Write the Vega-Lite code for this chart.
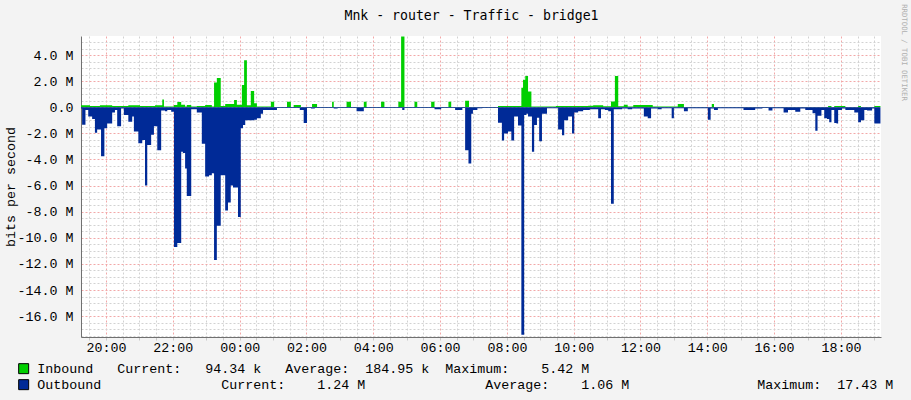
{
"$schema": "https://vega.github.io/schema/vega-lite/v6.json",
"width": 800, "height": 301,
"autosize": {"type": "none"},
"padding": {"left": 81, "top": 36, "right": 30, "bottom": 63},
"background": "#F3F3F3",
"view": {"fill": "#FFFFFF", "stroke": null},
"data": {"values": [
{"time":"2024-01-01T19:15Z","series":"Inbound","mbps":0.15},{"time":"2024-01-01T19:31Z","series":"Inbound","mbps":0.1},{"time":"2024-01-01T19:49Z","series":"Inbound","mbps":0.15},{"time":"2024-01-01T20:11Z","series":"Inbound","mbps":0.1},{"time":"2024-01-01T20:40Z","series":"Inbound","mbps":0.15},{"time":"2024-01-01T21:01Z","series":"Inbound","mbps":0.1},{"time":"2024-01-01T21:28Z","series":"Inbound","mbps":0.15},{"time":"2024-01-01T21:41Z","series":"Inbound","mbps":0.6},{"time":"2024-01-01T21:44Z","series":"Inbound","mbps":0.05},{"time":"2024-01-01T22:02Z","series":"Inbound","mbps":0.18},{"time":"2024-01-01T22:08Z","series":"Inbound","mbps":0.4},{"time":"2024-01-01T22:15Z","series":"Inbound","mbps":0.2},{"time":"2024-01-01T22:22Z","series":"Inbound","mbps":0.05},{"time":"2024-01-01T22:25Z","series":"Inbound","mbps":0.18},{"time":"2024-01-01T22:33Z","series":"Inbound","mbps":0.05},{"time":"2024-01-01T22:43Z","series":"Inbound","mbps":0.1},{"time":"2024-01-01T22:58Z","series":"Inbound","mbps":0.18},{"time":"2024-01-01T23:10Z","series":"Inbound","mbps":0.05},{"time":"2024-01-01T23:14Z","series":"Inbound","mbps":1.9},{"time":"2024-01-01T23:19Z","series":"Inbound","mbps":2.25},{"time":"2024-01-01T23:26Z","series":"Inbound","mbps":0.1},{"time":"2024-01-01T23:34Z","series":"Inbound","mbps":0.25},{"time":"2024-01-01T23:50Z","series":"Inbound","mbps":0.55},{"time":"2024-01-01T23:55Z","series":"Inbound","mbps":0.2},
{"time":"2024-01-02T00:04Z","series":"Inbound","mbps":1.7},{"time":"2024-01-02T00:08Z","series":"Inbound","mbps":3.6},{"time":"2024-01-02T00:13Z","series":"Inbound","mbps":0.15},{"time":"2024-01-02T00:20Z","series":"Inbound","mbps":1.25},{"time":"2024-01-02T00:26Z","series":"Inbound","mbps":0.3},{"time":"2024-01-02T00:31Z","series":"Inbound","mbps":0.05},{"time":"2024-01-02T00:56Z","series":"Inbound","mbps":0.43},{"time":"2024-01-02T01:02Z","series":"Inbound","mbps":0.02},{"time":"2024-01-02T01:25Z","series":"Inbound","mbps":0.43},{"time":"2024-01-02T01:32Z","series":"Inbound","mbps":0.02},{"time":"2024-01-02T01:37Z","series":"Inbound","mbps":0.18},{"time":"2024-01-02T01:50Z","series":"Inbound","mbps":0.02},{"time":"2024-01-02T02:10Z","series":"Inbound","mbps":0.25},{"time":"2024-01-02T02:19Z","series":"Inbound","mbps":0.02},{"time":"2024-01-02T02:46Z","series":"Inbound","mbps":0.43},{"time":"2024-01-02T02:49Z","series":"Inbound","mbps":0.02},{"time":"2024-01-02T03:12Z","series":"Inbound","mbps":0.43},{"time":"2024-01-02T03:20Z","series":"Inbound","mbps":0.02},{"time":"2024-01-02T03:43Z","series":"Inbound","mbps":0.43},{"time":"2024-01-02T03:48Z","series":"Inbound","mbps":0.02},{"time":"2024-01-02T04:14Z","series":"Inbound","mbps":0.43},{"time":"2024-01-02T04:20Z","series":"Inbound","mbps":0.02},{"time":"2024-01-02T04:45Z","series":"Inbound","mbps":0.43},{"time":"2024-01-02T04:50Z","series":"Inbound","mbps":5.42},{"time":"2024-01-02T04:56Z","series":"Inbound","mbps":0.02},{"time":"2024-01-02T05:14Z","series":"Inbound","mbps":0.43},{"time":"2024-01-02T05:19Z","series":"Inbound","mbps":0.02},{"time":"2024-01-02T05:44Z","series":"Inbound","mbps":0.43},{"time":"2024-01-02T05:50Z","series":"Inbound","mbps":0.02},{"time":"2024-01-02T06:15Z","series":"Inbound","mbps":0.43},{"time":"2024-01-02T06:20Z","series":"Inbound","mbps":0.02},{"time":"2024-01-02T06:45Z","series":"Inbound","mbps":0.5},{"time":"2024-01-02T06:52Z","series":"Inbound","mbps":0.02},{"time":"2024-01-02T07:44Z","series":"Inbound","mbps":0.1},{"time":"2024-01-02T08:26Z","series":"Inbound","mbps":1.5},{"time":"2024-01-02T08:29Z","series":"Inbound","mbps":2.1},{"time":"2024-01-02T08:33Z","series":"Inbound","mbps":2.4},{"time":"2024-01-02T08:38Z","series":"Inbound","mbps":1.2},{"time":"2024-01-02T08:44Z","series":"Inbound","mbps":0.05},{"time":"2024-01-02T09:28Z","series":"Inbound","mbps":0.1},{"time":"2024-01-02T10:26Z","series":"Inbound","mbps":0.12},{"time":"2024-01-02T10:35Z","series":"Inbound","mbps":0.15},{"time":"2024-01-02T10:53Z","series":"Inbound","mbps":0.08},{"time":"2024-01-02T11:07Z","series":"Inbound","mbps":0.45},{"time":"2024-01-02T11:14Z","series":"Inbound","mbps":2.4},{"time":"2024-01-02T11:20Z","series":"Inbound","mbps":0.08},{"time":"2024-01-02T11:30Z","series":"Inbound","mbps":0.2},{"time":"2024-01-02T11:37Z","series":"Inbound","mbps":0.05},{"time":"2024-01-02T11:47Z","series":"Inbound","mbps":0.18},{"time":"2024-01-02T12:22Z","series":"Inbound","mbps":0.05},{"time":"2024-01-02T13:07Z","series":"Inbound","mbps":0.25},{"time":"2024-01-02T13:18Z","series":"Inbound","mbps":0.02},{"time":"2024-01-02T14:08Z","series":"Inbound","mbps":0.25},{"time":"2024-01-02T14:12Z","series":"Inbound","mbps":0.02},{"time":"2024-01-02T17:37Z","series":"Inbound","mbps":0.1},{"time":"2024-01-02T17:43Z","series":"Inbound","mbps":0.02},{"time":"2024-01-02T17:48Z","series":"Inbound","mbps":0.1},{"time":"2024-01-02T18:08Z","series":"Inbound","mbps":0.02},{"time":"2024-01-02T18:31Z","series":"Inbound","mbps":0.1},{"time":"2024-01-02T18:36Z","series":"Inbound","mbps":0.02},{"time":"2024-01-02T19:00Z","series":"Inbound","mbps":0.1},{"time":"2024-01-02T19:11Z","series":"Inbound","mbps":0.1},
{"time":"2024-01-01T19:15Z","series":"Outbound","mbps":-0.1},{"time":"2024-01-01T19:17Z","series":"Outbound","mbps":-1.33},{"time":"2024-01-01T19:23Z","series":"Outbound","mbps":-0.2},{"time":"2024-01-01T19:28Z","series":"Outbound","mbps":-0.7},{"time":"2024-01-01T19:35Z","series":"Outbound","mbps":-0.9},{"time":"2024-01-01T19:40Z","series":"Outbound","mbps":-1.95},{"time":"2024-01-01T19:44Z","series":"Outbound","mbps":-1.7},{"time":"2024-01-01T19:51Z","series":"Outbound","mbps":-3.75},{"time":"2024-01-01T19:57Z","series":"Outbound","mbps":-1.6},{"time":"2024-01-01T20:02Z","series":"Outbound","mbps":-1.25},{"time":"2024-01-01T20:11Z","series":"Outbound","mbps":-0.4},{"time":"2024-01-01T20:16Z","series":"Outbound","mbps":-0.2},{"time":"2024-01-01T20:20Z","series":"Outbound","mbps":-1.45},{"time":"2024-01-01T20:27Z","series":"Outbound","mbps":-0.1},{"time":"2024-01-01T20:32Z","series":"Outbound","mbps":-0.6},{"time":"2024-01-01T20:40Z","series":"Outbound","mbps":-1.1},{"time":"2024-01-01T20:47Z","series":"Outbound","mbps":-0.7},{"time":"2024-01-01T20:50Z","series":"Outbound","mbps":-1.85},{"time":"2024-01-01T20:58Z","series":"Outbound","mbps":-2.75},{"time":"2024-01-01T21:05Z","series":"Outbound","mbps":-2.5},{"time":"2024-01-01T21:10Z","series":"Outbound","mbps":-6.0},{"time":"2024-01-01T21:14Z","series":"Outbound","mbps":-2.9},{"time":"2024-01-01T21:21Z","series":"Outbound","mbps":-2.1},{"time":"2024-01-01T21:26Z","series":"Outbound","mbps":-1.45},{"time":"2024-01-01T21:32Z","series":"Outbound","mbps":-3.3},{"time":"2024-01-01T21:39Z","series":"Outbound","mbps":-0.25},{"time":"2024-01-01T21:46Z","series":"Outbound","mbps":-0.3},{"time":"2024-01-01T21:50Z","series":"Outbound","mbps":-0.2},{"time":"2024-01-01T21:57Z","series":"Outbound","mbps":-0.35},{"time":"2024-01-01T22:02Z","series":"Outbound","mbps":-10.7},{"time":"2024-01-01T22:08Z","series":"Outbound","mbps":-10.4},{"time":"2024-01-01T22:15Z","series":"Outbound","mbps":-3.4},{"time":"2024-01-01T22:18Z","series":"Outbound","mbps":-3.5},{"time":"2024-01-01T22:22Z","series":"Outbound","mbps":-4.7},{"time":"2024-01-01T22:25Z","series":"Outbound","mbps":-6.8},{"time":"2024-01-01T22:33Z","series":"Outbound","mbps":-0.15},{"time":"2024-01-01T22:43Z","series":"Outbound","mbps":-0.4},{"time":"2024-01-01T22:52Z","series":"Outbound","mbps":-2.8},{"time":"2024-01-01T22:58Z","series":"Outbound","mbps":-5.3},{"time":"2024-01-01T23:05Z","series":"Outbound","mbps":-5.2},{"time":"2024-01-01T23:10Z","series":"Outbound","mbps":-5.05},{"time":"2024-01-01T23:14Z","series":"Outbound","mbps":-11.7},{"time":"2024-01-01T23:19Z","series":"Outbound","mbps":-9.07},{"time":"2024-01-01T23:26Z","series":"Outbound","mbps":-5.2},{"time":"2024-01-01T23:34Z","series":"Outbound","mbps":-7.9},{"time":"2024-01-01T23:39Z","series":"Outbound","mbps":-7.3},{"time":"2024-01-01T23:44Z","series":"Outbound","mbps":-6.0},{"time":"2024-01-01T23:48Z","series":"Outbound","mbps":-6.15},{"time":"2024-01-01T23:57Z","series":"Outbound","mbps":-8.4},
{"time":"2024-01-02T00:02Z","series":"Outbound","mbps":-1.6},{"time":"2024-01-02T00:06Z","series":"Outbound","mbps":-1.35},{"time":"2024-01-02T00:10Z","series":"Outbound","mbps":-1.0},{"time":"2024-01-02T00:26Z","series":"Outbound","mbps":-0.95},{"time":"2024-01-02T00:31Z","series":"Outbound","mbps":-0.85},{"time":"2024-01-02T00:38Z","series":"Outbound","mbps":-0.5},{"time":"2024-01-02T00:42Z","series":"Outbound","mbps":-0.2},{"time":"2024-01-02T01:07Z","series":"Outbound","mbps":-0.05},{"time":"2024-01-02T01:48Z","series":"Outbound","mbps":-0.2},{"time":"2024-01-02T01:55Z","series":"Outbound","mbps":-1.2},{"time":"2024-01-02T02:01Z","series":"Outbound","mbps":-0.05},{"time":"2024-01-02T02:08Z","series":"Outbound","mbps":-0.1},{"time":"2024-01-02T02:15Z","series":"Outbound","mbps":-0.05},{"time":"2024-01-02T02:49Z","series":"Outbound","mbps":-0.1},{"time":"2024-01-02T02:56Z","series":"Outbound","mbps":-0.05},{"time":"2024-01-02T03:30Z","series":"Outbound","mbps":-0.3},{"time":"2024-01-02T03:43Z","series":"Outbound","mbps":-0.05},{"time":"2024-01-02T04:52Z","series":"Outbound","mbps":-0.2},{"time":"2024-01-02T04:56Z","series":"Outbound","mbps":-0.05},{"time":"2024-01-02T05:50Z","series":"Outbound","mbps":-0.15},{"time":"2024-01-02T06:02Z","series":"Outbound","mbps":-0.05},{"time":"2024-01-02T06:27Z","series":"Outbound","mbps":-0.2},{"time":"2024-01-02T06:40Z","series":"Outbound","mbps":-0.05},{"time":"2024-01-02T06:45Z","series":"Outbound","mbps":-3.3},{"time":"2024-01-02T06:51Z","series":"Outbound","mbps":-4.3},{"time":"2024-01-02T06:56Z","series":"Outbound","mbps":-0.5},{"time":"2024-01-02T06:59Z","series":"Outbound","mbps":-0.2},{"time":"2024-01-02T07:07Z","series":"Outbound","mbps":-0.08},{"time":"2024-01-02T07:16Z","series":"Outbound","mbps":-0.05},{"time":"2024-01-02T07:44Z","series":"Outbound","mbps":-1.18},{"time":"2024-01-02T07:51Z","series":"Outbound","mbps":-2.55},{"time":"2024-01-02T07:55Z","series":"Outbound","mbps":-2.0},{"time":"2024-01-02T08:02Z","series":"Outbound","mbps":-1.85},{"time":"2024-01-02T08:08Z","series":"Outbound","mbps":-2.55},{"time":"2024-01-02T08:13Z","series":"Outbound","mbps":-0.7},{"time":"2024-01-02T08:20Z","series":"Outbound","mbps":-1.4},{"time":"2024-01-02T08:26Z","series":"Outbound","mbps":-17.43},{"time":"2024-01-02T08:31Z","series":"Outbound","mbps":-0.6},{"time":"2024-01-02T08:35Z","series":"Outbound","mbps":-0.5},{"time":"2024-01-02T08:38Z","series":"Outbound","mbps":-0.7},{"time":"2024-01-02T08:45Z","series":"Outbound","mbps":-3.4},{"time":"2024-01-02T08:49Z","series":"Outbound","mbps":-1.35},{"time":"2024-01-02T08:54Z","series":"Outbound","mbps":-0.8},{"time":"2024-01-02T08:58Z","series":"Outbound","mbps":-2.6},{"time":"2024-01-02T09:03Z","series":"Outbound","mbps":-0.5},{"time":"2024-01-02T09:12Z","series":"Outbound","mbps":-0.08},{"time":"2024-01-02T09:32Z","series":"Outbound","mbps":-1.7},{"time":"2024-01-02T09:39Z","series":"Outbound","mbps":-2.15},{"time":"2024-01-02T09:43Z","series":"Outbound","mbps":-1.0},{"time":"2024-01-02T09:50Z","series":"Outbound","mbps":-0.7},{"time":"2024-01-02T09:57Z","series":"Outbound","mbps":-2.0},{"time":"2024-01-02T10:01Z","series":"Outbound","mbps":-0.4},{"time":"2024-01-02T10:08Z","series":"Outbound","mbps":-0.3},{"time":"2024-01-02T10:17Z","series":"Outbound","mbps":-0.2},{"time":"2024-01-02T10:29Z","series":"Outbound","mbps":-0.15},{"time":"2024-01-02T10:44Z","series":"Outbound","mbps":-0.85},{"time":"2024-01-02T10:49Z","series":"Outbound","mbps":-0.15},{"time":"2024-01-02T10:56Z","series":"Outbound","mbps":-0.2},{"time":"2024-01-02T11:02Z","series":"Outbound","mbps":-0.3},{"time":"2024-01-02T11:07Z","series":"Outbound","mbps":-7.4},{"time":"2024-01-02T11:12Z","series":"Outbound","mbps":-0.15},{"time":"2024-01-02T11:27Z","series":"Outbound","mbps":-0.1},{"time":"2024-01-02T11:37Z","series":"Outbound","mbps":-0.15},{"time":"2024-01-02T11:45Z","series":"Outbound","mbps":-0.1},{"time":"2024-01-02T12:06Z","series":"Outbound","mbps":-0.7},{"time":"2024-01-02T12:13Z","series":"Outbound","mbps":-0.85},{"time":"2024-01-02T12:19Z","series":"Outbound","mbps":-0.1},{"time":"2024-01-02T12:31Z","series":"Outbound","mbps":-0.15},{"time":"2024-01-02T12:38Z","series":"Outbound","mbps":-0.08},{"time":"2024-01-02T12:56Z","series":"Outbound","mbps":-0.85},{"time":"2024-01-02T13:00Z","series":"Outbound","mbps":-0.08},{"time":"2024-01-02T13:18Z","series":"Outbound","mbps":-0.3},{"time":"2024-01-02T13:25Z","series":"Outbound","mbps":-0.08},{"time":"2024-01-02T14:01Z","series":"Outbound","mbps":-0.95},{"time":"2024-01-02T14:06Z","series":"Outbound","mbps":-0.1},{"time":"2024-01-02T14:12Z","series":"Outbound","mbps":-0.2},{"time":"2024-01-02T14:19Z","series":"Outbound","mbps":-0.08},{"time":"2024-01-02T15:05Z","series":"Outbound","mbps":-0.2},{"time":"2024-01-02T15:26Z","series":"Outbound","mbps":-0.1},{"time":"2024-01-02T15:39Z","series":"Outbound","mbps":-0.05},{"time":"2024-01-02T15:50Z","series":"Outbound","mbps":-0.25},{"time":"2024-01-02T15:57Z","series":"Outbound","mbps":-0.08},{"time":"2024-01-02T16:17Z","series":"Outbound","mbps":-0.4},{"time":"2024-01-02T16:25Z","series":"Outbound","mbps":-0.2},{"time":"2024-01-02T16:38Z","series":"Outbound","mbps":-0.35},{"time":"2024-01-02T16:47Z","series":"Outbound","mbps":-0.1},{"time":"2024-01-02T16:56Z","series":"Outbound","mbps":-0.2},{"time":"2024-01-02T17:09Z","series":"Outbound","mbps":-0.45},{"time":"2024-01-02T17:14Z","series":"Outbound","mbps":-1.8},{"time":"2024-01-02T17:18Z","series":"Outbound","mbps":-0.65},{"time":"2024-01-02T17:25Z","series":"Outbound","mbps":-0.2},{"time":"2024-01-02T17:30Z","series":"Outbound","mbps":-0.85},{"time":"2024-01-02T17:35Z","series":"Outbound","mbps":-0.9},{"time":"2024-01-02T17:39Z","series":"Outbound","mbps":-1.15},{"time":"2024-01-02T17:43Z","series":"Outbound","mbps":-0.2},{"time":"2024-01-02T17:48Z","series":"Outbound","mbps":-1.2},{"time":"2024-01-02T17:52Z","series":"Outbound","mbps":-1.25},{"time":"2024-01-02T17:55Z","series":"Outbound","mbps":-0.2},{"time":"2024-01-02T18:02Z","series":"Outbound","mbps":-0.1},{"time":"2024-01-02T18:08Z","series":"Outbound","mbps":-0.2},{"time":"2024-01-02T18:24Z","series":"Outbound","mbps":-0.4},{"time":"2024-01-02T18:31Z","series":"Outbound","mbps":-1.15},{"time":"2024-01-02T18:36Z","series":"Outbound","mbps":-1.0},{"time":"2024-01-02T18:42Z","series":"Outbound","mbps":-0.2},{"time":"2024-01-02T18:47Z","series":"Outbound","mbps":-0.25},{"time":"2024-01-02T18:56Z","series":"Outbound","mbps":-0.1},{"time":"2024-01-02T19:00Z","series":"Outbound","mbps":-1.24},{"time":"2024-01-02T19:11Z","series":"Outbound","mbps":-1.24}
]},
"layer": [
{
"mark": {"type": "area", "interpolate": "step-after", "opacity": 1},
"encoding": {
"x": {"field": "time", "type": "temporal",
"scale": {"type": "utc", "domain": [{"year": 2024, "month": 1, "date": 1, "hours": 19, "minutes": 15, "utc": true}, {"year": 2024, "month": 1, "date": 2, "hours": 19, "minutes": 12, "utc": true}]},
"axis": {"title": null, "tickCount": 48,
"labelExpr": "utcminutes(datum.value) === 0 && utchours(datum.value) % 2 === 0 ? utcFormat(datum.value, '%H:%M') : ''",
"labelFont": "Liberation Mono", "labelFontSize": 13.33, "labelColor": "#000000", "labelOverlap": false, "labelFlush": false, "labelBound": false, "labelPadding": 0,
"ticks": true, "tickSize": 3, "tickColor": "#C8C8C8",
"grid": true, "gridColor": {"condition": {"test": "utcminutes(datum.value) === 0 && utchours(datum.value) % 2 === 0", "value": "#F2A8A8"}, "value": "#D2D2D2"}, "gridDash": [2, 2], "gridWidth": 1,
"domainColor": "#707070", "domainWidth": 1}},
"y": {"field": "mbps", "type": "quantitative", "stack": null,
"scale": {"domain": [-17.6, 5.46], "nice": false, "zero": false},
"axis": {"title": "bits per second", "titleFont": "Liberation Mono", "titleFontSize": 13.33, "titleFontWeight": "normal", "titleColor": "#000000", "titleX": -71, "titleBaseline": "middle",
"values": [-17.5,-17,-16.5,-16,-15.5,-15,-14.5,-14,-13.5,-13,-12.5,-12,-11.5,-11,-10.5,-10,-9.5,-9,-8.5,-8,-7.5,-7,-6.5,-6,-5.5,-5,-4.5,-4,-3.5,-3,-2.5,-2,-1.5,-1,-0.5,0,0.5,1,1.5,2,2.5,3,3.5,4,4.5,5],
"labelExpr": "abs(datum.value - 2 * round(datum.value / 2)) < 0.01 ? (abs(datum.value) < 0.01 ? '0.0' : (datum.value < 0 ? '-' : '') + format(abs(datum.value), '.1f') + ' M') : ''",
"labelFont": "Liberation Mono", "labelFontSize": 13.33, "labelColor": "#000000", "labelPadding": 8, "labelOverlap": false, "labelBound": false, "labelFlush": false,
"ticks": false,
"grid": true, "gridColor": {"condition": {"test": "abs(datum.value - 2 * round(datum.value / 2)) < 0.01", "value": "#F2A8A8"}, "value": "#D2D2D2"}, "gridDash": [2, 2], "gridWidth": 1,
"domainColor": "#707070", "domainWidth": 1}},
"color": {"field": "series", "type": "nominal",
"scale": {"domain": ["Inbound", "Outbound"], "range": ["#00CF00", "#002A97"]},
"legend": {"orient": "none", "legendX": -64, "legendY": 326, "direction": "vertical", "title": null, "padding": 0,
"symbolType": "square", "symbolSize": 100, "symbolStrokeColor": "#000000", "symbolStrokeWidth": 1, "symbolOpacity": 1,
"labelFont": "Liberation Mono", "labelFontSize": 13.33, "labelColor": "#000000", "labelLimit": 1000, "labelOffset": 7, "rowPadding": 1,
"labelExpr": "datum.label === 'Inbound' ? 'Inbound\u00a0\u00a0\u00a0Current:\u00a0\u00a0\u00a094.34\u00a0k\u00a0\u00a0\u00a0Average:\u00a0\u00a0184.95\u00a0k\u00a0\u00a0Maximum:\u00a0\u00a0\u00a0\u00a05.42\u00a0M' : 'Outbound\u00a0\u00a0\u00a0\u00a0\u00a0\u00a0\u00a0\u00a0\u00a0\u00a0\u00a0\u00a0\u00a0\u00a0\u00a0Current:\u00a0\u00a0\u00a0\u00a01.24\u00a0M\u00a0\u00a0\u00a0\u00a0\u00a0\u00a0\u00a0\u00a0\u00a0\u00a0\u00a0\u00a0\u00a0\u00a0\u00a0Average:\u00a0\u00a0\u00a0\u00a01.06\u00a0M\u00a0\u00a0\u00a0\u00a0\u00a0\u00a0\u00a0\u00a0\u00a0\u00a0\u00a0\u00a0\u00a0\u00a0\u00a0\u00a0Maximum:\u00a0\u00a017.43\u00a0M'"}}
}
},
{
"mark": {"type": "point", "opacity": 0},
"encoding": {
"x": {"field": "time", "type": "temporal",
"axis": {"orient": "top", "title": "Mnk - router - Traffic - bridge1", "titleFont": "DejaVu Sans Mono", "titleFontSize": 13.2, "titleFontWeight": "normal", "titleColor": "#000000", "titleX": 390, "titleY": -16.7, "titleAlign": "center", "titleBaseline": "alphabetic", "titleAngle": 0,
"labels": false, "ticks": false, "domain": false, "grid": false}},
"y": {"field": "mbps", "type": "quantitative",
"axis": {"orient": "right", "title": "RRDTOOL / TOBI OETIKER", "titleAngle": 90, "titleFont": "DejaVu Sans Mono", "titleFontSize": 7.3, "titleFontWeight": "normal", "titleColor": "#B0B0B0", "titleX": 22, "titleY": 16, "titleAlign": "center", "titleBaseline": "middle",
"labels": false, "ticks": false, "domain": false, "grid": false}}
}
}
],
"resolve": {"axis": {"x": "independent", "y": "independent"}}
}
